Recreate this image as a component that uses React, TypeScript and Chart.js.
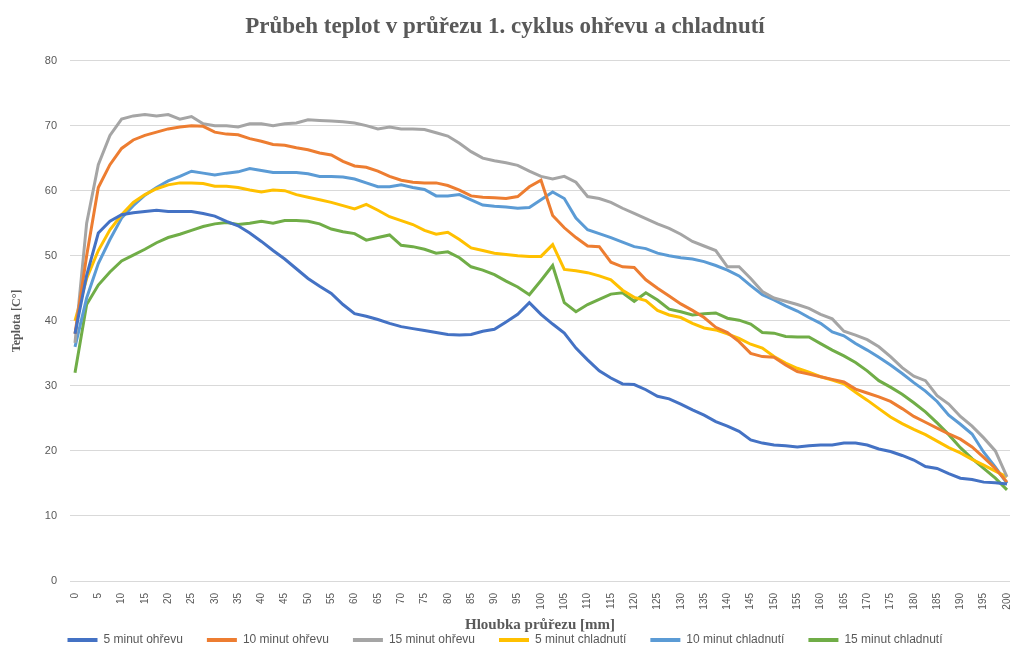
import React, { useEffect, useRef } from "react";
import { Chart, registerables } from "chart.js";

Chart.register(...registerables);

const depth = [
  0, 2.5, 5, 7.5, 10, 12.5, 15, 17.5, 20, 22.5,
  25, 27.5, 30, 32.5, 35, 37.5, 40, 42.5, 45, 47.5,
  50, 52.5, 55, 57.5, 60, 62.5, 65, 67.5, 70, 72.5,
  75, 77.5, 80, 82.5, 85, 87.5, 90, 92.5, 95, 97.5,
  100, 102.5, 105, 107.5, 110, 112.5, 115, 117.5, 120, 122.5,
  125, 127.5, 130, 132.5, 135, 137.5, 140, 142.5, 145, 147.5,
  150, 152.5, 155, 157.5, 160, 162.5, 165, 167.5, 170, 172.5,
  175, 177.5, 180, 182.5, 185, 187.5, 190, 192.5, 195, 197.5,
  200,
];

const heat5 = [
  38, 47, 53.5, 55.3, 56.3, 56.6, 56.8, 57, 56.8, 56.8,
  56.8, 56.5, 56.1, 55.3, 54.6, 53.5, 52.2, 50.8, 49.5, 48,
  46.5, 45.3, 44.2, 42.5, 41.1, 40.7, 40.2, 39.6, 39.1, 38.8,
  38.5, 38.2, 37.9, 37.8, 37.9, 38.4, 38.7, 39.8, 41, 42.8,
  41, 39.5, 38.1, 35.8, 34, 32.3, 31.2, 30.3, 30.2, 29.4,
  28.4, 28, 27.2, 26.3, 25.5, 24.5, 23.8, 23, 21.7, 21.2,
  20.9, 20.8, 20.6, 20.8, 20.9, 20.9, 21.2, 21.2, 20.9, 20.3,
  19.9, 19.3, 18.6, 17.6, 17.3, 16.5, 15.8, 15.6, 15.2, 15.1,
  14.9,
];

const heat10 = [
  38, 50, 60.5, 64, 66.5, 67.8, 68.5, 69, 69.5, 69.8,
  70, 69.9, 69, 68.7, 68.6, 68, 67.6, 67.1, 67, 66.6,
  66.3, 65.8, 65.5, 64.5, 63.8, 63.6, 63, 62.2, 61.6, 61.3,
  61.2, 61.2, 60.8, 60.1, 59.2, 59, 58.9, 58.8, 59.1, 60.6,
  61.6, 56.2, 54.3, 52.8, 51.5, 51.4, 49, 48.3, 48.2, 46.3,
  45, 43.8, 42.6, 41.6, 40.5, 39, 38.2, 36.8, 35, 34.5,
  34.4, 33.2, 32.2, 31.8, 31.4, 31, 30.6, 29.5, 28.9, 28.3,
  27.6, 26.5, 25.3, 24.4, 23.5, 22.6, 21.8, 20.6, 19, 17.3,
  15.2,
];

const heat15 = [
  36.6, 55, 64, 68.5, 71, 71.5, 71.7, 71.5, 71.7, 71,
  71.4, 70.3, 70, 70, 69.8, 70.3, 70.3, 70, 70.3, 70.4,
  70.9, 70.8, 70.7, 70.6, 70.4, 70, 69.5, 69.8, 69.5, 69.5,
  69.4, 68.9, 68.4, 67.3, 66, 65, 64.6, 64.3, 63.9, 63,
  62.2, 61.8, 62.2, 61.3, 59.1, 58.8, 58.2, 57.3, 56.5, 55.7,
  54.9, 54.2, 53.3, 52.2, 51.5, 50.8, 48.3, 48.3, 46.5, 44.5,
  43.5, 43, 42.5, 41.9, 41, 40.3, 38.4, 37.8, 37.1, 36,
  34.5, 32.8, 31.5, 30.8, 28.5, 27.2, 25.3, 23.8, 22, 20,
  16,
];

const cool5 = [
  40, 46.5, 50.8, 54, 56.3, 58.2, 59.4, 60.3, 60.9, 61.2,
  61.2, 61.1, 60.7, 60.7, 60.5, 60.1, 59.8, 60.1, 60, 59.4,
  59, 58.6, 58.2, 57.7, 57.2, 57.9, 57, 56, 55.4, 54.8,
  53.9, 53.3, 53.6, 52.5, 51.2, 50.8, 50.4, 50.2, 50, 49.9,
  49.9, 51.7, 47.9, 47.7, 47.4, 46.9, 46.3, 44.7, 43.6, 43.1,
  41.6, 40.9, 40.5, 39.6, 38.9, 38.6, 38, 37.3, 36.4, 35.8,
  34.5, 33.5, 32.7, 32.1, 31.4, 30.9, 30.3, 29, 27.8, 26.5,
  25.2, 24.2, 23.3, 22.5, 21.5, 20.5, 19.7, 18.7, 17.8, 16.9,
  16,
];

const cool10 = [
  36, 43.5, 48.8, 52.5, 55.8, 57.7, 59.3, 60.5, 61.5, 62.2,
  63, 62.7, 62.4, 62.7, 62.9, 63.4, 63.1, 62.8, 62.8, 62.8,
  62.6, 62.2, 62.2, 62.1, 61.8, 61.2, 60.6, 60.6, 60.9, 60.5,
  60.2, 59.2, 59.2, 59.4, 58.6, 57.8, 57.6, 57.5, 57.3, 57.4,
  58.6, 59.8, 58.8, 55.8, 54, 53.4, 52.8, 52.1, 51.4, 51.1,
  50.4, 50, 49.7, 49.5, 49.1, 48.5, 47.8, 46.9, 45.4, 44,
  43.2, 42.3, 41.5, 40.5, 39.6, 38.3, 37.7, 36.5, 35.5, 34.4,
  33.2, 31.9, 30.5, 29.2, 27.6, 25.5, 24.1, 22.6, 19.8, 17.5,
  15,
];

const cool15 = [
  32, 42.5, 45.5, 47.5, 49.2, 50.1, 51, 52, 52.8, 53.3,
  53.9, 54.5, 54.9, 55.1, 54.8, 55, 55.3, 55, 55.4, 55.4,
  55.3, 54.9, 54.1, 53.7, 53.4, 52.4, 52.8, 53.2, 51.6, 51.4,
  51, 50.4, 50.6, 49.7, 48.3, 47.8, 47.1, 46.1, 45.2, 44,
  46.2, 48.5, 42.8, 41.4, 42.5, 43.3, 44.1, 44.3, 43, 44.3,
  43.2, 41.8, 41.4, 40.9, 41.1, 41.2, 40.4, 40.1, 39.5, 38.2,
  38.1, 37.6, 37.5, 37.5, 36.5, 35.5, 34.6, 33.6, 32.3, 30.8,
  29.8, 28.7, 27.4, 26, 24.3, 22.5, 20.5, 18.8, 17.3, 15.8,
  14,
];

const seriesNames = [
  "5 minut ohřevu",
  "10 minut ohřevu",
  "15 minut ohřevu",
  "5 minut chladnutí",
  "10 minut chladnutí",
  "15 minut chladnutí",
];
const seriesValues = [heat5, heat10, heat15, cool5, cool10, cool15];
const seriesColors = ["#4472C4", "#ED7D31", "#A5A5A5", "#FFC000", "#5B9BD5", "#70AD47"];

const xTickValues = [
  0, 5, 10, 15, 20, 25, 30, 35, 40, 45, 50, 55, 60, 65, 70, 75, 80, 85, 90, 95, 100,
  105, 110, 115, 120, 125, 130, 135, 140, 145, 150, 155, 160, 165, 170, 175, 180, 185, 190, 195, 200,
];
const yTickValues = [0, 10, 20, 30, 40, 50, 60, 70, 80];

const TITLE = "Průbeh teplot v průřezu 1. cyklus ohřevu a chladnutí";
const X_TITLE = "Hloubka průřezu [mm]";
const Y_TITLE = "Teplota [C°]";

export default function App() {
  const ref = useRef<HTMLCanvasElement | null>(null);

  useEffect(() => {
    if (!ref.current) return;
    const textGray = "#595959";
    const chart = new Chart(ref.current, {
      type: "line",
      data: {
        datasets: seriesNames.map((name, i) => ({
          label: name,
          data: depth.map((d, j) => ({ x: d, y: seriesValues[i][j] })),
          borderColor: seriesColors[i],
          backgroundColor: seriesColors[i],
          borderWidth: 3,
          pointRadius: 0,
          tension: 0,
          fill: false,
        })),
      },
      options: {
        responsive: false,
        animation: false,
        layout: { padding: { left: 0, right: 0, top: 0, bottom: -6 } },
        plugins: {
          title: {
            display: true,
            text: TITLE,
            color: textGray,
            font: { family: "'Liberation Serif', serif", size: 23, weight: "bold" },
            padding: { top: 13, bottom: 20 },
          },
          legend: {
            position: "bottom",
            labels: {
              color: textGray,
              font: { family: "'Liberation Sans', sans-serif", size: 12 },
              boxWidth: 30,
              boxHeight: 4,
              padding: 24,
              generateLabels: (c: any) =>
                Chart.defaults.plugins.legend.labels
                  .generateLabels(c)
                  .map((l: any) => ({ ...l, lineWidth: 0, fillStyle: l.strokeStyle })),
            },
          },
          tooltip: { enabled: false },
        },
        scales: {
          x: {
            type: "linear",
            min: -1.073,
            max: 200.644,
            afterBuildTicks: (scale: any) => {
              scale.ticks = xTickValues.map((v) => ({ value: v }));
            },
            afterFit: (scale: any) => {
              scale.height = 29;
              scale.paddingLeft = 0;
              scale.paddingRight = 0;
            },
            grid: { display: false },
            border: { display: false },
            ticks: {
              autoSkip: false,
              minRotation: 90,
              maxRotation: 90,
              padding: 4,
              color: textGray,
              font: { family: "'Liberation Sans', sans-serif", size: 10 },
            },
            title: {
              display: true,
              text: X_TITLE,
              color: textGray,
              font: { family: "'Liberation Serif', serif", size: 15, weight: "bold" },
              padding: { top: 0, bottom: -24 },
            },
          },
          y: {
            min: 0,
            max: 80,
            afterBuildTicks: (scale: any) => {
              scale.ticks = yTickValues.map((v) => ({ value: v }));
            },
            afterFit: (scale: any) => {
              scale.width = 70;
            },
            grid: { color: "#D9D9D9", lineWidth: 1, drawTicks: false },
            border: { display: false },
            ticks: {
              padding: 13,
              color: textGray,
              font: { family: "'Liberation Sans', sans-serif", size: 11 },
            },
            title: {
              display: true,
              text: Y_TITLE,
              color: textGray,
              font: { family: "'Liberation Serif', serif", size: 12, weight: "bold" },
              padding: { top: 10, bottom: 0 },
            },
          },
        },
      },
    } as any);
    return () => chart.destroy();
  }, []);

  return (
    <div style={{ position: "fixed", left: 0, top: 0, width: 1010, height: 650, overflow: "hidden", background: "#fff" }}>
      <canvas ref={ref} width={1010} height={650} style={{ display: "block" }} />
    </div>
  );
}
